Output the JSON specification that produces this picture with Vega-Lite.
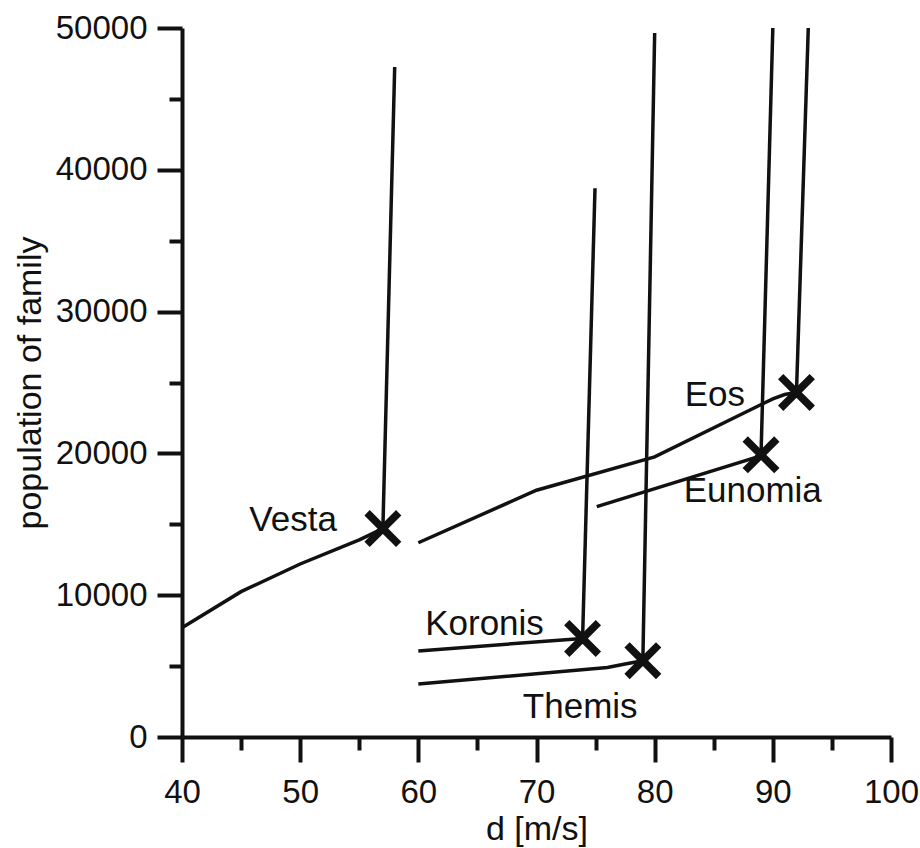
{
  "$schema": "https://vega.github.io/schema/vega-lite/v6.json",
  "autosize": {"type": "none"},
  "padding": {"left": 182, "top": 28, "right": 29, "bottom": 111},
  "width": 709,
  "height": 709,
  "background": "white",
  "config": {
    "view": {"stroke": null},
    "font": "Liberation Sans",
    "axis": {
      "grid": false,
      "domainColor": "#111111",
      "domainWidth": 4,
      "tickColor": "#111111",
      "tickWidth": 4,
      "labelColor": "#111111",
      "labelFont": "Liberation Sans",
      "labelFontSize": 33,
      "titleFont": "Liberation Sans",
      "titleFontSize": 34,
      "titleFontWeight": "normal",
      "titleColor": "#111111",
      "labelFlush": false,
      "labelOverlap": false
    }
  },
  "datasets": {
    "lines": [
      {"s": "Vesta", "i": 0, "d": 40, "n": 7700},
      {"s": "Vesta", "i": 1, "d": 45, "n": 10250},
      {"s": "Vesta", "i": 2, "d": 50, "n": 12200},
      {"s": "Vesta", "i": 3, "d": 55, "n": 13900},
      {"s": "Vesta", "i": 4, "d": 57, "n": 14700},
      {"s": "Vesta_v", "i": 0, "d": 57, "n": 14700},
      {"s": "Vesta_v", "i": 1, "d": 58, "n": 47250},
      {"s": "Eos", "i": 0, "d": 60, "n": 13700},
      {"s": "Eos", "i": 1, "d": 70, "n": 17400},
      {"s": "Eos", "i": 2, "d": 80, "n": 19750},
      {"s": "Eos", "i": 3, "d": 90, "n": 23850},
      {"s": "Eos", "i": 4, "d": 91, "n": 24150},
      {"s": "Eos", "i": 5, "d": 92, "n": 24300},
      {"s": "Eos_v", "i": 0, "d": 92, "n": 24300},
      {"s": "Eos_v", "i": 1, "d": 93, "n": 50000},
      {"s": "Eunomia", "i": 0, "d": 75.1, "n": 16250},
      {"s": "Eunomia", "i": 1, "d": 88.5, "n": 19700},
      {"s": "Eunomia", "i": 2, "d": 89.0, "n": 19900},
      {"s": "Eunomia_v", "i": 0, "d": 89.0, "n": 19900},
      {"s": "Eunomia_v", "i": 1, "d": 90.0, "n": 50000},
      {"s": "Koronis", "i": 0, "d": 60, "n": 6070},
      {"s": "Koronis", "i": 1, "d": 73.9, "n": 6950},
      {"s": "Koronis_v", "i": 0, "d": 73.9, "n": 6950},
      {"s": "Koronis_v", "i": 1, "d": 74.95, "n": 38700},
      {"s": "Themis", "i": 0, "d": 60, "n": 3740},
      {"s": "Themis", "i": 1, "d": 76, "n": 4900},
      {"s": "Themis", "i": 2, "d": 77.5, "n": 5150},
      {"s": "Themis", "i": 3, "d": 79, "n": 5380},
      {"s": "Themis_v", "i": 0, "d": 79, "n": 5380},
      {"s": "Themis_v", "i": 1, "d": 80, "n": 49650}
    ],
    "markers": [
      {"name": "Vesta", "d": 57.0, "n": 14700},
      {"name": "Koronis", "d": 73.9, "n": 6950},
      {"name": "Themis", "d": 79.0, "n": 5380},
      {"name": "Eunomia", "d": 89.0, "n": 19900},
      {"name": "Eos", "d": 92.0, "n": 24300}
    ],
    "labels": [
      {"name": "Vesta", "d": 49.4, "n": 15300},
      {"name": "Eos", "d": 85.1, "n": 24150},
      {"name": "Eunomia", "d": 88.3, "n": 17350},
      {"name": "Koronis", "d": 65.6, "n": 7950},
      {"name": "Themis", "d": 73.7, "n": 2150}
    ]
  },
  "encoding": {
    "x": {
      "field": "d",
      "type": "quantitative",
      "scale": {"domain": [40, 100], "nice": false, "zero": false},
      "axis": {
        "title": "d [m/s]",
        "values": [40, 45, 50, 55, 60, 65, 70, 75, 80, 85, 90, 95, 100],
        "labelExpr": "datum.value % 10 === 0 ? datum.label : ''",
        "tickSize": {"condition": {"test": "datum.value % 10 === 0", "value": 25}, "value": 13},
        "labelPadding": 14,
        "titlePadding": 3
      }
    },
    "y": {
      "field": "n",
      "type": "quantitative",
      "scale": {"domain": [0, 50000], "nice": false, "zero": true},
      "axis": {
        "title": "population of family",
        "format": "d",
        "values": [0, 5000, 10000, 15000, 20000, 25000, 30000, 35000, 40000, 45000, 50000],
        "labelExpr": "datum.value % 10000 === 0 ? datum.label : ''",
        "tickSize": {"condition": {"test": "datum.value % 10000 === 0", "value": 25}, "value": 13},
        "labelPadding": 10,
        "titlePadding": 8
      }
    }
  },
  "layer": [
    {
      "data": {"name": "lines"},
      "mark": {"type": "line", "color": "#111111", "strokeWidth": 3.5, "clip": false},
      "encoding": {
        "detail": {"field": "s", "type": "nominal"},
        "order": {"field": "i", "type": "quantitative"}
      }
    },
    {
      "data": {"name": "markers"},
      "mark": {
        "type": "point",
        "shape": "M-1,-1L1,1M-1,1L1,-1",
        "filled": false,
        "stroke": "#111111",
        "strokeWidth": 7.5,
        "size": 1000,
        "opacity": 1,
        "strokeCap": "butt"
      }
    },
    {
      "data": {"name": "labels"},
      "mark": {
        "type": "text",
        "font": "Liberation Sans",
        "fontSize": 35,
        "color": "#111111",
        "align": "center",
        "baseline": "middle"
      },
      "encoding": {
        "text": {"field": "name", "type": "nominal"}
      }
    }
  ]
}
